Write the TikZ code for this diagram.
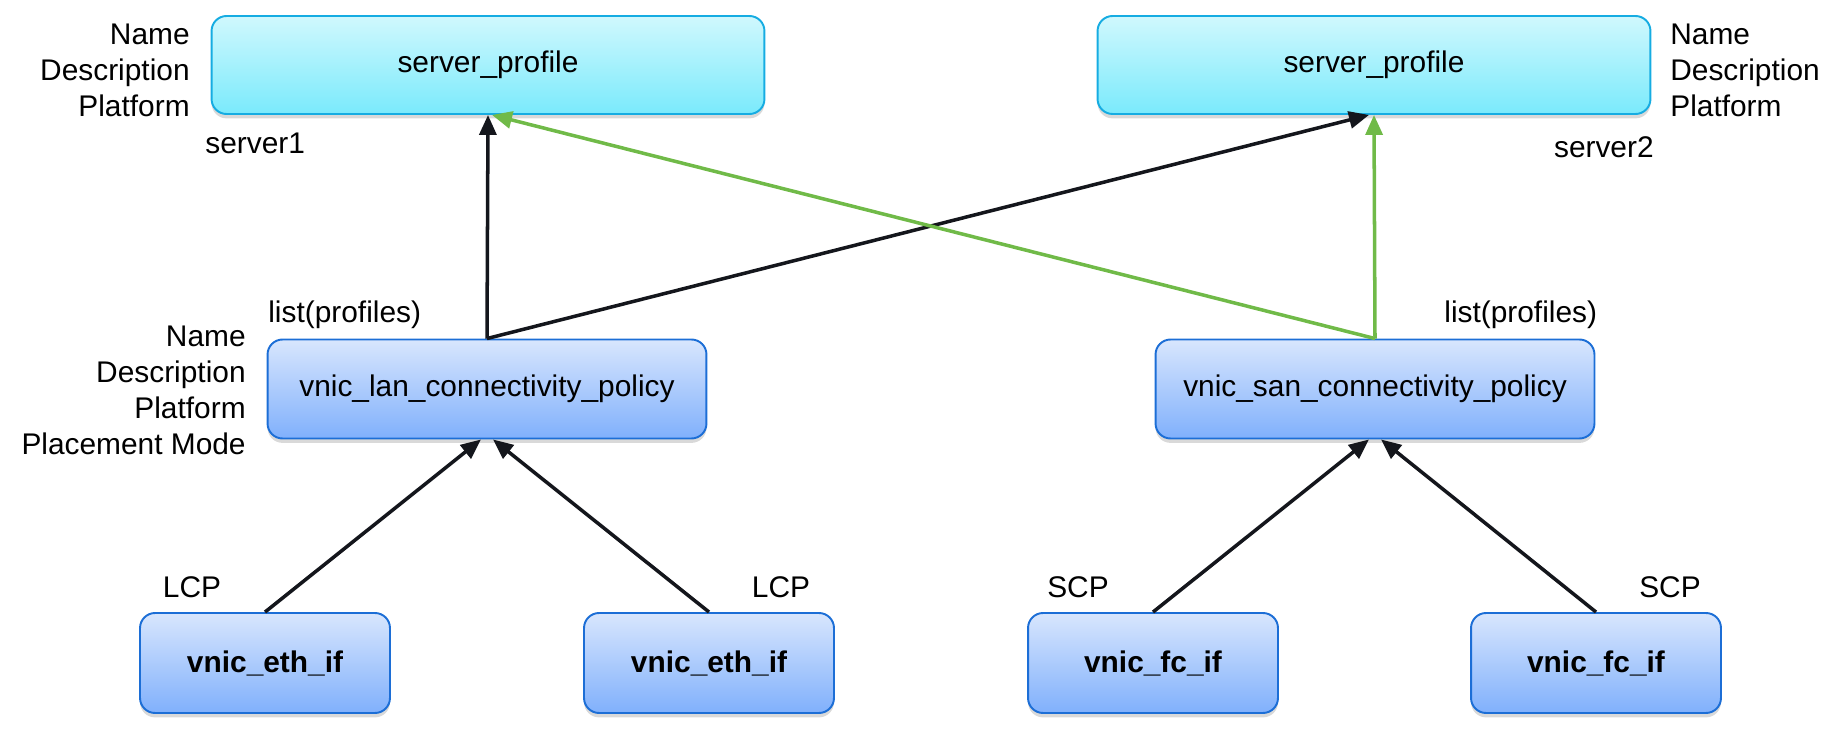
\documentclass[tikz,border=0pt]{standalone}
\usepackage{fontspec}
\setmainfont{Liberation Sans}
\usetikzlibrary{arrows.meta,shadows}

\definecolor{cyantop}{RGB}{208,248,253}
\definecolor{cyanbot}{RGB}{122,234,252}
\definecolor{cyanline}{RGB}{22,172,226}
\definecolor{bluetop}{RGB}{216,230,253}
\definecolor{bluebot}{RGB}{128,176,252}
\definecolor{blueline}{RGB}{28,110,214}
\definecolor{arrowblack}{RGB}{20,22,28}
\definecolor{arrowgreen}{RGB}{112,186,72}

\begin{document}
\begin{tikzpicture}[x=0.02cm, y=-0.02cm,
        font=\fontsize{17}{20.5}\selectfont,
        box/.style={rectangle, rounded corners=0.3cm, line width=1.1pt,
            drop shadow={shadow xshift=0pt, shadow yshift=-2.5pt, opacity=0.3}},
        profile/.style={box, draw=cyanline, top color=cyantop, bottom color=cyanbot,
            minimum width=11.06cm, minimum height=1.96cm},
        policy/.style={box, draw=blueline, top color=bluetop, bottom color=bluebot,
            minimum width=8.78cm, minimum height=1.98cm},
        vnic/.style={box, draw=blueline, top color=bluetop, bottom color=bluebot,
            minimum width=5cm, minimum height=2cm, font=\fontsize{17}{20.5}\selectfont\bfseries},
        attr/.style={inner sep=0pt},
        arr/.style={-{Triangle[length=0.4cm, width=0.34cm]}, line width=2pt, draw=arrowblack},
        garr/.style={arr, draw=arrowgreen}]
        \useasboundingbox (0,0) rectangle (1839,736);

        % Nodes
        \node[profile] at (488, 65)   (srv1) {server\_profile};
        \node[profile] at (1374, 65)  (srv2) {server\_profile};
        \node[policy]  at (487, 389)  (lan)  {vnic\_lan\_connectivity\_policy};
        \node[policy]  at (1375, 389) (san)  {vnic\_san\_connectivity\_policy};
        \node[vnic]    at (265, 663)  (eth1) {vnic\_eth\_if};
        \node[vnic]    at (709, 663)  (eth2) {vnic\_eth\_if};
        \node[vnic]    at (1153, 663) (fc1)  {vnic\_fc\_if};
        \node[vnic]    at (1596, 663) (fc2)  {vnic\_fc\_if};

        % Labels
        \node[attr, anchor=east, align=right] at (190, 70) (srv1attr) {Name\\Description\\Platform};
        \node[attr, anchor=west] at (205, 143) (srv1name) {server1};
        \node[attr, anchor=west, align=left] at (1670, 70) (srv2attr) {Name\\Description\\Platform};
        \node[attr, anchor=east] at (1654, 147) (srv2name) {server2};
        \node[attr, anchor=west] at (268, 315) (lanlist) {list(profiles)};
        \node[attr, anchor=west] at (1444, 315) (sanlist) {list(profiles)};
        \node[attr, anchor=east, align=right] at (246, 390) (lanattr) {Name\\Description\\Platform\\Placement Mode};
        \node[attr] at (192, 587)  (lcp1) {LCP};
        \node[attr] at (781, 587)  (lcp2) {LCP};
        \node[attr] at (1078, 587) (scp1) {SCP};
        \node[attr] at (1670, 587) (scp2) {SCP};

        % Connectors
        \draw[arr]  (eth1.north) -- ([xshift=-0.12cm]lan.south);
        \draw[arr]  (eth2.north) -- ([xshift=0.12cm]lan.south);
        \draw[arr]  (fc1.north) -- ([xshift=-0.12cm]san.south);
        \draw[arr]  (fc2.north) -- ([xshift=0.12cm]san.south);

        \draw[arr]  (lan.north) -- (srv1.south);
        \draw[arr]  (lan.north) -- ([xshift=-0.1cm]srv2.south);
        \draw[garr] (san.north) -- ([xshift=0.08cm]srv1.south);
        \draw[garr] (san.north) -- (srv2.south);
    \end{tikzpicture}
\end{document}
